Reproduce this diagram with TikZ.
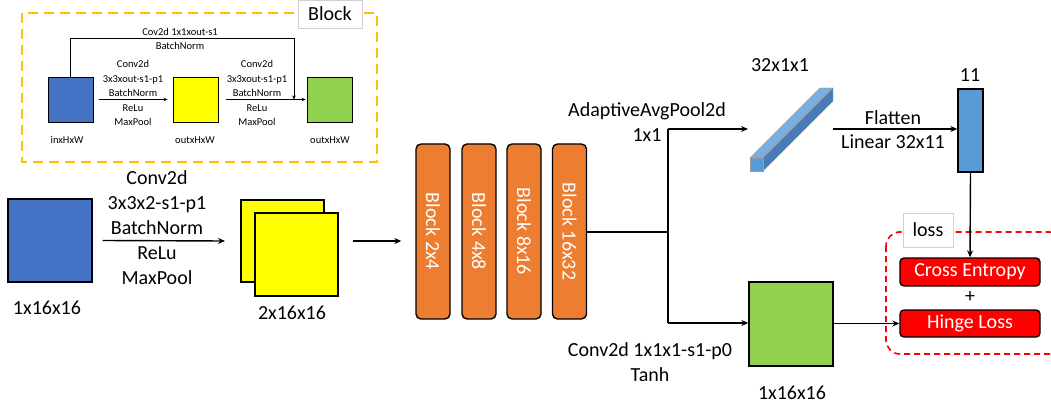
\documentclass[tikz,border=0pt]{standalone}
\usepackage{fontspec}
\setmainfont{Carlito}
\usetikzlibrary{arrows.meta}
\definecolor{cblue}{HTML}{4472C4}
\definecolor{cyellow}{HTML}{FFFF00}
\definecolor{cgreen}{HTML}{92D050}
\definecolor{corange}{HTML}{ED7D31}
\definecolor{cgold}{HTML}{FFC000}
\definecolor{cred}{HTML}{FF0000}
\definecolor{barfront}{HTML}{5B9BD5}
\definecolor{bartop}{HTML}{7AAEE0}
\definecolor{barside}{HTML}{477DB4}
\definecolor{tagline}{HTML}{D0D0D0}
\newcommand{\bigtxt}{\fontsize{20}{25}\selectfont}
\newcommand{\smalltxt}{\fontsize{10.5}{14.5}\selectfont}
\tikzset{
  sq/.style={draw=black, line width=1.4pt, inner sep=0pt},
  minisq/.style={draw=black, line width=0.9pt, inner sep=0pt, minimum width=45pt, minimum height=45pt},
  lbl/.style={font=\bigtxt, align=center, inner sep=0pt},
  minilbl/.style={font=\smalltxt, align=center, inner sep=0pt},
  arr/.style={line width=1.4pt, -{Stealth[length=7pt,width=6pt]}},
  miniarr/.style={line width=0.8pt, -{Stealth[length=4pt,width=3.5pt]}},
  blk/.style={draw=black, line width=1.4pt, fill=corange, rounded corners=5pt, minimum width=34pt, minimum height=175pt, inner sep=0pt},
  blktxt/.style={text=white, font=\bigtxt, rotate=-90},
  lossbox/.style={draw=black, line width=1.4pt, fill=cred, rounded corners=4pt, minimum width=140pt, inner sep=0pt, text=white, font=\bigtxt},
  tag/.style={draw=tagline, line width=0.6pt, fill=white, inner sep=0pt, font=\bigtxt}
}
\begin{document}
\begin{tikzpicture}[x=1pt,y=-1pt]
\useasboundingbox (0,0) rectangle (1051,406);

% ---------- residual block detail ----------
\draw[cgold, line width=2pt, dash pattern=on 10pt off 6pt] (22,13) rectangle (377,162);
\node[tag, minimum width=64pt, minimum height=28pt] (blocktag) at (330,14) {Block};

\node[minisq, fill=cblue] (inS) at (70.5,99.5) {};
\node[minisq, fill=cyellow] (midS) at (195.5,99.5) {};
\node[minisq, fill=cgreen] (outS) at (329.5,99.5) {};
\node[minilbl] (inSl) at (67,140) {inxHxW};
\node[minilbl] (midSl) at (195,140) {outxHxW};
\node[minilbl] (outSl) at (330,140) {outxHxW};

\draw[miniarr] ([xshift=6pt]inS.east) -- ([xshift=-5pt]midS.west);
\draw[miniarr] ([xshift=8pt]midS.east) -- ([xshift=-1pt]outS.west);
\coordinate (skipR) at (294,38);
\draw[miniarr] (inS.north) |- (skipR) -- (skipR |- outS.west);

\node[minilbl] (skipl) at (180,39) {Cov2d 1x1xout-s1\\BatchNorm};
\node[minilbl] (a1up) at (133,78.5) {Conv2d\\3x3xout-s1-p1\\BatchNorm};
\node[minilbl] (a1dn) at (133,115) {ReLu\\MaxPool};
\node[minilbl] (a2up) at (257,78.5) {Conv2d\\3x3xout-s1-p1\\BatchNorm};
\node[minilbl] (a2dn) at (257,115) {ReLu\\MaxPool};

% ---------- stem ----------
\node[sq, fill=cblue, minimum width=84pt, minimum height=83pt] (inp) at (50,240.5) {};
\node[lbl] (inpl) at (47,308) {1x16x16};
\draw[arr] ([xshift=10pt]inp.east) -- (225,241) coordinate (stemend);
\node[lbl] (stemup) at (157,203) {Conv2d\\3x3x2-s1-p1\\BatchNorm};
\node[lbl] (stemdn) at (157,265.5) {ReLu\\MaxPool};

\node[sq, fill=cyellow, minimum width=83pt, minimum height=82pt] (fmapb) at (282.5,241) {};
\node[sq, fill=cyellow, minimum width=83pt, minimum height=83pt] (fmapf) at (296.5,254.5) {};
\node[lbl] (fmapl) at (292,313) {2x16x16};

% ---------- residual stages ----------
\node[blk] (b1) at (433,231.5) {};
\node[blk] (b2) at (479,231.5) {};
\node[blk] (b3) at (524,231.5) {};
\node[blk] (b4) at (569.5,231.5) {};
\node[blktxt] at (b1) {Block 2x4};
\node[blktxt] at (b2) {Block 4x8};
\node[blktxt] at (b3) {Block 8x16};
\node[blktxt] at (b4) {Block 16x32};
\draw[arr] (fmapf.east |- fmapb.east) ++(14pt,0) -- ([xshift=-14pt]b1.west |- fmapb.east);

% ---------- two heads ----------
\coordinate (split) at (668,232);
\coordinate (splitT) at (668,129);
\coordinate (splitB) at (668,323);
\draw[line width=1.4pt] (b4.east |- split) -- (split);
\draw[line width=1.4pt] (splitT) -- (splitB);

% classification head
\coordinate (barT) at (748,129);
\draw[arr] (splitT) -- (barT);
\node[lbl] (poolL) at (647,122.5) {AdaptiveAvgPool2d\\1x1};

\draw[black!40, line width=0.4pt, fill=bartop] (750,158) -- (763,158) -- (833,88) -- (820,88) -- cycle;
\draw[black!40, line width=0.4pt, fill=barside] (763,158) -- (763,171) -- (833,101) -- (833,88) -- cycle;
\draw[black!40, line width=0.4pt, fill=barfront] (750,158) rectangle (763,171);
\node[lbl] (barl) at (780,65) {32x1x1};

\node[sq, fill=barfront, minimum width=25pt, minimum height=83pt] (logits) at (970.5,130.5) {};
\node[lbl] (logitsl) at (970,75) {11};
\draw[arr] (833,129) -- (logits.west |- 0,129);
\node[lbl] (flat) at (893,118) {Flatten};
\node[lbl] (lin) at (893,142) {Linear 32x11};

% segmentation head
\node[sq, fill=cgreen, minimum width=84pt, minimum height=84pt] (seg) at (791,324) {};
\node[lbl] (segl) at (792,393) {1x16x16};
\draw[arr] (splitB) -- (seg.west |- splitB);
\node[lbl] (convL) at (650,362.5) {Conv2d 1x1x1-s1-p0\\Tanh};

% ---------- loss ----------
\draw[cred, line width=1.6pt, dash pattern=on 6pt off 4pt, rounded corners=14pt] (886,232) rectangle (1063,354);
\node[tag, minimum width=50pt, minimum height=34pt] (losstag) at (928,230) {loss};
\node[lossbox, minimum height=28pt] (ce) at (970,272) {Cross Entropy};
\node[lossbox, minimum height=27pt] (hl) at (970,323.5) {Hinge Loss};
\node[lbl] (plus) at (970,297) {+};
\draw[arr] (logits.south) -- (ce.north);
\draw[arr] (seg.east |- hl.west) -- (hl.west);
\end{tikzpicture}
\end{document}
